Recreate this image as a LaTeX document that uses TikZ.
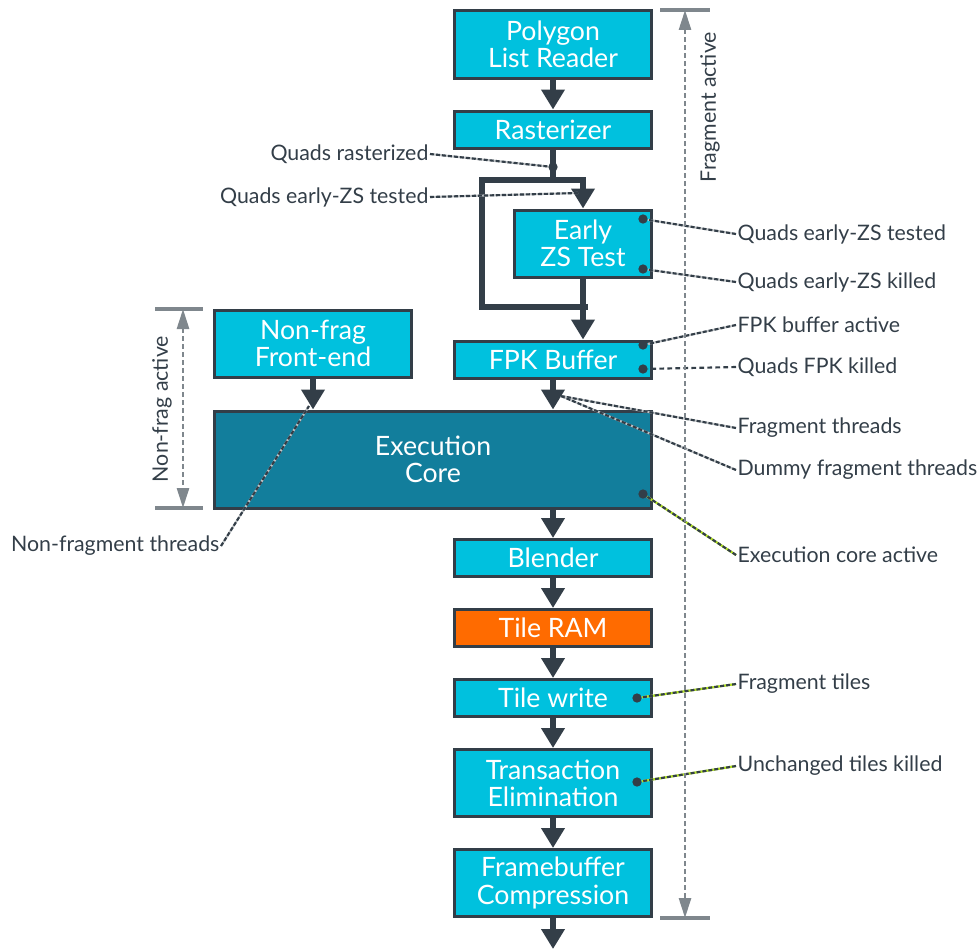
\documentclass[tikz,border=0pt]{standalone}
\usepackage{fontspec}
\setmainfont{Lato}
\usetikzlibrary{arrows.meta, positioning, calc}
\definecolor{boxcyan}{HTML}{00C1DE}
\definecolor{coreteal}{HTML}{127E9C}
\definecolor{ramorange}{HTML}{FF6B00}
\definecolor{ink}{HTML}{333E48}
\definecolor{dimgray}{HTML}{7F878D}
\definecolor{leafgreen}{HTML}{B5E61D}
\tikzset{
  stage/.style={fill=boxcyan, draw=ink, line width=2.25pt, text=white, align=center,
    font=\fontsize{20}{20.5}\selectfont, minimum width=147.75pt, minimum height=27.75pt, inner sep=0pt},
  tall/.style={minimum height=50.25pt},
  flowline/.style={draw=ink, line width=4.5pt, line join=miter},
  flow/.style={flowline, -{Triangle[length=15pt,width=17pt]}},
  dot/.style={circle, fill=ink, inner sep=0pt, minimum size=7pt},
  note/.style={text=ink, font=\fontsize{16}{18}\selectfont, inner sep=1pt},
  leader/.style={draw=ink, line width=1.6pt, dash pattern=on 3pt off 1.5pt, preaction={draw=dimgray!50, solid, line width=1.6pt}},
  leadergreen/.style={leader, preaction={draw=leafgreen, solid, line width=1.6pt}},
  dimcap/.style={draw=dimgray, line width=2.5pt},
  dimline/.style={draw=dimgray, line width=2pt, dash pattern=on 3.5pt off 2.5pt,
    {Triangle[length=15pt,width=9pt]}-{Triangle[length=15pt,width=9pt]}}
}
\begin{document}
\begin{tikzpicture}[x=0.75pt, y=-0.75pt]
\useasboundingbox (0,0) rectangle (980,949);
% main column
\node[stage, tall] (PLR) at (553,44.5) {Polygon\\List Reader};
\node[stage, below=22.5pt of PLR] (Rast) {Rasterizer};
\node[stage, below=142.5pt of Rast] (FPK) {FPK Buffer};
\node[stage, tall, minimum width=102.75pt] (EZS) at (583,243.5) {Early\\ZS Test};
\node[stage, tall] (NFE) at (313,343.5) {Non-frag\\Front-end};
\node[stage, fill=coreteal, minimum width=327.75pt, minimum height=72.75pt, anchor=north east] (Exec)
  at ($(FPK.south east)+(0pt,-22.5pt)$) {Execution\\Core};
\node[stage] (Blend) at (553,558) {Blender};
\node[stage, fill=ramorange, below=22.5pt of Blend] (TRAM) {Tile RAM};
\node[stage, below=22.5pt of TRAM] (TW) {Tile write};
\node[stage, tall, below=22.5pt of TW] (TE) {Transaction\\Elimination};
\node[stage, tall, below=22.5pt of TE] (FBC) {Framebuffer\\Compression};
\coordinate (out) at (553,949);
% early ZS bypass
\coordinate (split) at (553,180);
\coordinate (loopL) at (482,180);
\coordinate (loopLB) at (482,307);
\coordinate (loopRB) at (585,307);
\draw[flow] (PLR) -- (Rast);
\draw[flow] (Rast) -- (split) -| (EZS);
\draw[flowline, line cap=rect] (split) -- (loopL) -- (loopLB) -- (loopRB);
\draw[flow] (EZS) -- (EZS |- FPK.north);
\draw[flow] (FPK) -- (FPK |- Exec.north);
\draw[flow] (NFE) -- (NFE |- Exec.north);
\draw[flow] (Blend |- Exec.south) -- (Blend);
\draw[flow] (Blend) -- (TRAM);
\draw[flow] (TRAM) -- (TW);
\draw[flow] (TW) -- (TE);
\draw[flow] (TE) -- (FBC);
\draw[flow] (FBC) -- (out);
% counter dots
\node[dot] (dRast) at (553,167) {};
\node[dot] (dEZS1) at (643,219) {};
\node[dot] (dEZS2) at (643,269) {};
\node[dot] (dFPK1) at (643,345) {};
\node[dot] (dFPK2) at (643,369) {};
\node[dot] (dExec) at (643,494) {};
\node[dot] (dTW) at (637,698) {};
\node[dot] (dTE) at (637,782) {};
\coordinate (ezsIn) at (578,193);
\coordinate (thr) at (561,396);
\coordinate (nfThr) at (309,406);
% counter labels
\node[note, anchor=east] (lRast) at (430,154) {Quads rasterized};
\node[note, anchor=east] (lEZSin) at (430,197) {Quads early-ZS tested};
\node[note, anchor=west] (lEZS1) at (736,234) {Quads early-ZS tested};
\node[note, anchor=west] (lEZS2) at (736,282) {Quads early-ZS killed};
\node[note, anchor=west] (lFPK1) at (736,325) {FPK buffer active};
\node[note, anchor=west] (lFPK2) at (736,367) {Quads FPK killed};
\node[note, anchor=west] (lThr) at (736,428) {Fragment threads};
\node[note, anchor=west] (lDummy) at (736,470) {Dummy fragment threads};
\node[note, anchor=west] (lExec) at (736,555) {Execution core active};
\node[note, anchor=west] (lTW) at (736,684) {Fragment tiles};
\node[note, anchor=west] (lTE) at (736,766) {Unchanged tiles killed};
\node[note, anchor=east] (lNF) at (221,546) {Non-fragment threads};
\draw[leader] (lRast.east) -- (dRast);
\draw[leader] (lEZSin.east) -- (ezsIn);
\draw[leader] (lEZS1.west) -- (dEZS1);
\draw[leader] (lEZS2.west) -- (dEZS2);
\draw[leader] (lFPK1.west) -- (dFPK1);
\draw[draw=ink, line width=1.6pt, dash pattern=on 3.5pt off 2.5pt] (lFPK2.west) -- (dFPK2);
\draw[leader] (lThr.west) -- (thr);
\draw[leader] (lDummy.west) -- (thr);
\draw[leadergreen] (lExec.west) -- (dExec);
\draw[leadergreen] (lTW.west) -- (dTW);
\draw[leadergreen] (lTE.west) -- (dTE);
\draw[leader] (lNF.east) -- (nfThr);
% activity spans
\coordinate (fragTop) at (685,10);
\coordinate (fragBot) at (685,918);
\coordinate (nfTop) at (183,309);
\coordinate (nfBot) at (183,508);
\draw[dimcap] (660,10) -- (710,10);
\draw[dimcap] (660,918) -- (710,918);
\draw[dimline] (fragTop) -- (fragBot);
\node[note, rotate=90] (lFrag) at (710,107) {Fragment active};
\draw[dimcap] (155,309) -- (203,309);
\draw[dimcap] (155,508) -- (203,508);
\draw[dimline] (nfTop) -- (nfBot);
\node[note, rotate=90] (lNFact) at (162,409) {Non-frag active};
\end{tikzpicture}
\end{document}
